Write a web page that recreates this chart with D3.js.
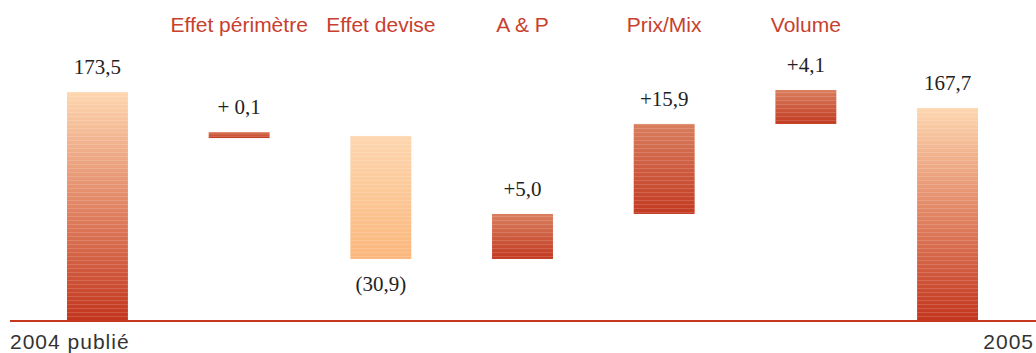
<!DOCTYPE html>
<html>
<head>
<meta charset="utf-8">
<script src="https://cdn.jsdelivr.net/npm/d3@7"></script>
<style>
  body { margin: 0; background: #fff; }
  .cat { font-family: "Liberation Sans", Arial, sans-serif; font-size: 21px; fill: #c8402e; }
  .foot { font-family: "Liberation Sans", Arial, sans-serif; font-size: 21px; fill: #333; letter-spacing: 1px; }
  .val { font-family: "Liberation Serif", "DejaVu Serif", serif; font-size: 21px; fill: #222; }
</style>
</head>
<body>
<svg id="chart"></svg>
<script>
const width = 1036, height = 353;

// bridge 2004 -> 2005 (bars drawn at the levels shown in the original, which is not to scale)
const categories = ["2004 publié", "Effet périmètre", "Effet devise", "A & P", "Prix/Mix", "Volume", "2005"];
const barFrom = [0, 138.6, 47.0, 47.0, 81.1, 149.3, 0];
const barTo = [173.5, 143.2, 140.2, 81.1, 149.3, 175.0, 161.4];
const valueLabels = ["173,5", "+ 0,1", "(30,9)", "+5,0", "+15,9", "+4,1", "167,7"];
const kinds = ["total", "up", "down", "up", "up", "up", "total"];

const data = categories.map((c, i) => ({
    name: c, from: barFrom[i], to: barTo[i], label: valueLabels[i], kind: kinds[i]
}));

const svg = d3.select("#chart").attr("width", width).attr("height", height);

const x = d3.scaleBand()
    .domain(categories)
    .range([67, 978])
    .paddingInner(0.57)
    .paddingOuter(0);

const y = d3.scaleLinear()
    .domain([0, 173.5])
    .range([321, 92]);

// gradients, one per kind of bar
const defs = svg.append("defs");
const grads = {
    total: [["0%", "#fdd7b0"], ["45%", "#e48d6b"], ["100%", "#c2351d"]],
    up: [["0%", "#d97e5e"], ["100%", "#c23a21"]],
    down: [["0%", "#fdd6af"], ["100%", "#fbb77c"]]
};
Object.keys(grads).forEach(k => {
    const g = defs.append("linearGradient")
        .attr("id", "grad-" + k)
        .attr("x1", 0).attr("y1", 0).attr("x2", 0).attr("y2", 1);
    grads[k].forEach(s => g.append("stop").attr("offset", s[0]).attr("stop-color", s[1]));
});

// faint horizontal stripes seen on the bars
const pat = defs.append("pattern")
    .attr("id", "stripes")
    .attr("patternUnits", "userSpaceOnUse")
    .attr("width", 8).attr("height", 4);
pat.append("rect").attr("width", 8).attr("height", 1).attr("fill", "#fff").attr("fill-opacity", 0.15);

const bars = svg.append("g").selectAll("g")
    .data(data)
    .enter().append("g");

bars.append("rect")
    .attr("x", d => x(d.name))
    .attr("width", x.bandwidth())
    .attr("y", d => y(Math.max(d.from, d.to)))
    .attr("height", d => Math.abs(y(d.from) - y(d.to)))
    .attr("fill", d => "url(#grad-" + d.kind + ")");

bars.append("rect")
    .attr("x", d => x(d.name))
    .attr("width", x.bandwidth())
    .attr("y", d => y(Math.max(d.from, d.to)))
    .attr("height", d => Math.abs(y(d.from) - y(d.to)))
    .attr("fill", "url(#stripes)");

// value labels: above the bar, or below it for the negative step
bars.append("text")
    .attr("class", "val")
    .attr("text-anchor", "middle")
    .attr("x", d => x(d.name) + x.bandwidth() / 2)
    .attr("y", d => d.kind === "down" ? y(d.from) + 32 : y(d.to) - 18)
    .text(d => d.label);

// baseline
svg.append("line")
    .attr("x1", 10).attr("x2", width)
    .attr("y1", y(0)).attr("y2", y(0))
    .attr("stroke", "#c5371f")
    .attr("stroke-width", 2);

// step names on top
svg.append("g").selectAll("text")
    .data(data.filter(d => d.kind !== "total"))
    .enter().append("text")
    .attr("class", "cat")
    .attr("text-anchor", "middle")
    .attr("x", d => x(d.name) + x.bandwidth() / 2)
    .attr("y", 32)
    .text(d => d.name);

// totals named below the baseline, at the edges
svg.append("text")
    .attr("class", "foot")
    .attr("x", 10).attr("y", 349)
    .text(categories[0]);

svg.append("text")
    .attr("class", "foot")
    .attr("text-anchor", "end")
    .attr("x", 1034).attr("y", 349)
    .text(categories[categories.length - 1]);
</script>
</body>
</html>
